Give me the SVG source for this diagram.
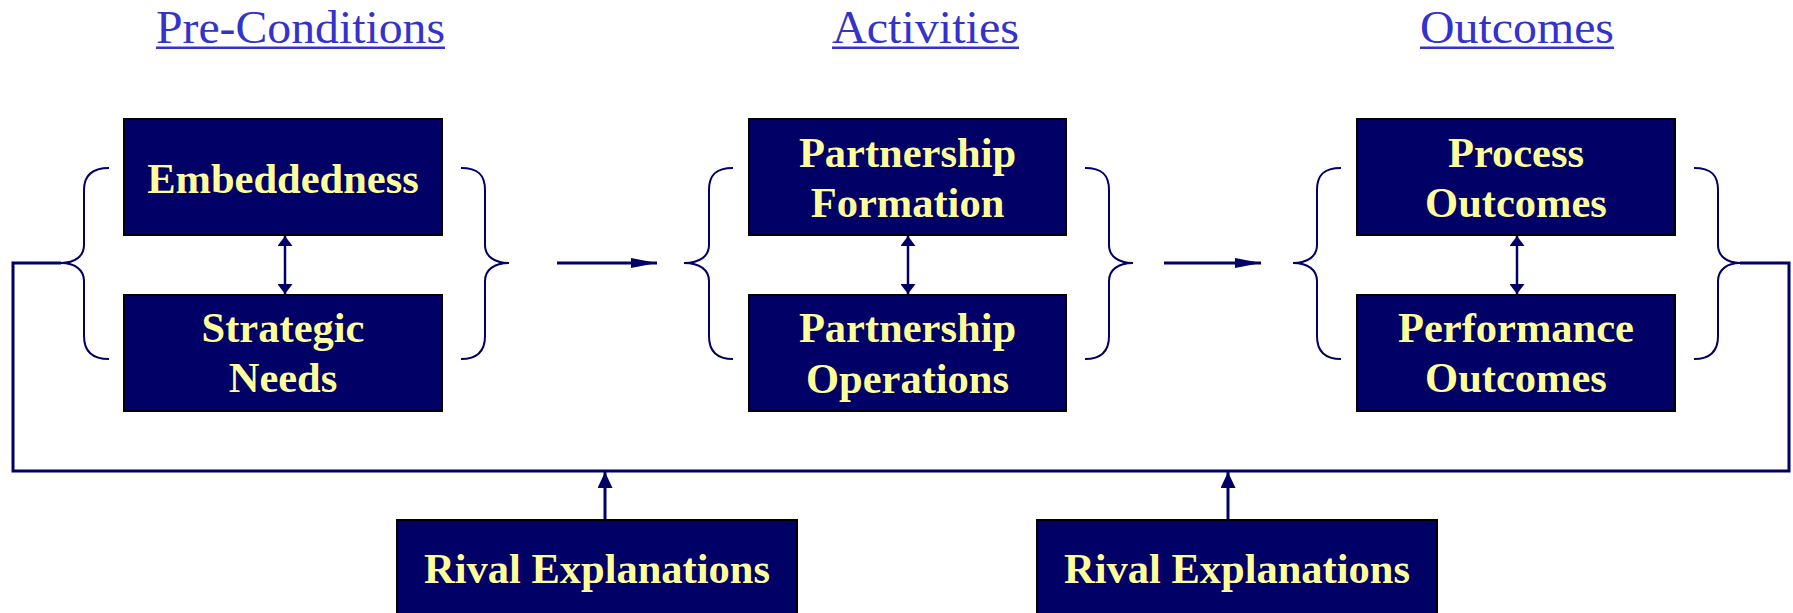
<svg xmlns="http://www.w3.org/2000/svg" width="1793" height="613" viewBox="0 0 1793 613">
<defs>
<style>
.box{fill:#000066;stroke:#000;stroke-width:2}
.lbl{font-family:"Liberation Serif","Times New Roman",serif;font-weight:bold;font-size:42.5px;fill:#FFFF99;text-anchor:middle}
.hdr{font-family:"Liberation Serif","Times New Roman",serif;font-size:47px;fill:#3333CC;text-anchor:middle}
.ul{fill:#3333CC}
.brace{fill:none;stroke:#000066;stroke-width:2}
.ln{fill:none;stroke:#000066;stroke-width:3}
.ln2{fill:none;stroke:#000066;stroke-width:2.5}
</style>
<marker id="ah" viewBox="0 0 26 10" refX="26" refY="5" markerWidth="26" markerHeight="10" markerUnits="userSpaceOnUse" orient="auto">
<path d="M0,0 L26,5 L0,10 Z" fill="#000066"/>
</marker>
<marker id="ahs" viewBox="0 0 10 15" refX="10" refY="7.5" markerWidth="10" markerHeight="15" markerUnits="userSpaceOnUse" orient="auto-start-reverse">
<path d="M0,0 L10,7.5 L0,15 Z" fill="#000066"/>
</marker>
<marker id="ahr" viewBox="0 0 16 15" refX="16" refY="7.5" markerWidth="16" markerHeight="15" markerUnits="userSpaceOnUse" orient="auto">
<path d="M0,0 L16,7.5 L0,15 Z" fill="#000066"/>
</marker>
</defs>
<rect width="1793" height="613" fill="#fff"/>

<g id="headers">
<text class="hdr" x="300.5" y="43" textLength="289" lengthAdjust="spacingAndGlyphs">Pre-Conditions</text>
<rect class="ul" x="156" y="46.5" width="289" height="2.5"/>
<text class="hdr" x="925.5" y="43" textLength="187" lengthAdjust="spacingAndGlyphs">Activities</text>
<rect class="ul" x="832" y="46.5" width="187" height="2.5"/>
<text class="hdr" x="1517" y="43" textLength="194" lengthAdjust="spacingAndGlyphs">Outcomes</text>
<rect class="ul" x="1420" y="46.5" width="194" height="2.5"/>
</g>

<g id="braces">
<path class="brace" d="M109,168 C92,168 84,175 84,190 L84,245 C84,256 75,263 61,263 C75,263 84,270 84,281 L84,336 C84,351 92,359 109,359"/>
<path class="brace" d="M461,168 C478,168 485,175 485,190 L485,245 C485,256 494,263 509,263 C494,263 485,270 485,281 L485,336 C485,351 478,359 461,359"/>
<path class="brace" d="M733,168 C716,168 709,175 709,190 L709,245 C709,256 700,263 684,263 C700,263 709,270 709,281 L709,336 C709,351 716,359 733,359"/>
<path class="brace" d="M1085,168 C1102,168 1109,175 1109,190 L1109,245 C1109,256 1118,263 1133,263 C1118,263 1109,270 1109,281 L1109,336 C1109,351 1102,359 1085,359"/>
<path class="brace" d="M1341,168 C1324,168 1317,175 1317,190 L1317,245 C1317,256 1308,263 1293,263 C1308,263 1317,270 1317,281 L1317,336 C1317,351 1324,359 1341,359"/>
<path class="brace" d="M1694,168 C1711,168 1718,175 1718,190 L1718,245 C1718,256 1727,263 1740,263 C1727,263 1718,270 1718,281 L1718,336 C1718,351 1711,359 1694,359"/>
</g>

<g id="connectors">
<line class="ln" x1="557" y1="263" x2="657" y2="263" marker-end="url(#ah)"/>
<line class="ln" x1="1164" y1="263" x2="1261" y2="263" marker-end="url(#ah)"/>
<line class="ln2" x1="285" y1="236" x2="285" y2="294" marker-start="url(#ahs)" marker-end="url(#ahs)"/>
<line class="ln2" x1="908" y1="236" x2="908" y2="294" marker-start="url(#ahs)" marker-end="url(#ahs)"/>
<line class="ln2" x1="1517" y1="236" x2="1517" y2="294" marker-start="url(#ahs)" marker-end="url(#ahs)"/>
<path class="ln" d="M61,263 L13,263 L13,471 L1789,471 L1789,263 L1740,263"/>
<line class="ln" x1="605" y1="520" x2="605" y2="472" marker-end="url(#ahr)"/>
<line class="ln" x1="1228" y1="520" x2="1228" y2="472" marker-end="url(#ahr)"/>
</g>

<g id="embeddedness">
<rect class="box" x="124" y="119" width="318" height="116"/>
<text class="lbl" x="283" y="193">Embeddedness</text>
</g>
<g id="strategic-needs">
<rect class="box" x="124" y="295" width="318" height="116"/>
<text class="lbl" x="283" y="342">Strategic</text>
<text class="lbl" x="283" y="392">Needs</text>
</g>
<g id="partnership-formation">
<rect class="box" x="749" y="119" width="317" height="116"/>
<text class="lbl" x="907.5" y="167">Partnership</text>
<text class="lbl" x="907.5" y="217">Formation</text>
</g>
<g id="partnership-operations">
<rect class="box" x="749" y="295" width="317" height="116"/>
<text class="lbl" x="907.5" y="342">Partnership</text>
<text class="lbl" x="907.5" y="393">Operations</text>
</g>
<g id="process-outcomes">
<rect class="box" x="1357" y="119" width="318" height="116"/>
<text class="lbl" x="1516" y="167">Process</text>
<text class="lbl" x="1516" y="217">Outcomes</text>
</g>
<g id="performance-outcomes">
<rect class="box" x="1357" y="295" width="318" height="116"/>
<text class="lbl" x="1516" y="342">Performance</text>
<text class="lbl" x="1516" y="392">Outcomes</text>
</g>
<g id="rival-1">
<rect class="box" x="397" y="520" width="400" height="100"/>
<text class="lbl" x="597" y="583">Rival Explanations</text>
</g>
<g id="rival-2">
<rect class="box" x="1037" y="520" width="400" height="100"/>
<text class="lbl" x="1237" y="583">Rival Explanations</text>
</g>
</svg>
